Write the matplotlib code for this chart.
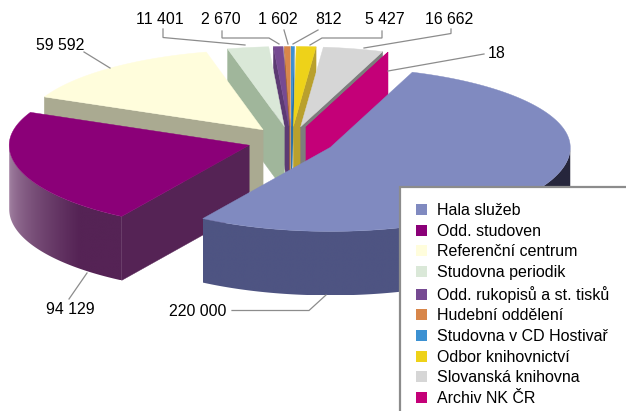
import numpy as np
import matplotlib
matplotlib.use("Agg")
import matplotlib.pyplot as plt
from matplotlib.colors import to_rgb
from matplotlib.patches import Polygon, Patch, Rectangle

plt.rcParams['font.family'] = ['Liberation Sans', 'DejaVu Sans']

categories = ["Hala služeb", "Odd. studoven", "Referenční centrum", "Studovna periodik",
              "Odd. rukopisů a st. tisků", "Hudební oddělení", "Studovna v CD Hostivař",
              "Odbor knihovnictví", "Slovanská knihovna", "Archiv NK ČR"]
values = [220000, 94129, 59592, 11401, 2670, 1602, 812, 5427, 16662, 18]
value_labels = ["220 000", "94 129", "59 592", "11 401", "2 670", "1 602", "812",
                "5 427", "16 662", "18"]

top_colors = ["#808AC0", "#8B0078", "#FFFDDC", "#DAE8D8", "#764A92", "#D8864A",
              "#3C91D2", "#EED219", "#D6D6D6", "#C40078"]
wall_colors = ["#4E5482", "#552355", "#AAAA91", "#A0B69B", "#5C3A73", "#A86838",
               "#2E70A4", "#B9A02D", "#7D7D7D", "#C40078"]
# arc wall shading: (clockwise angle, colour)
arc_stops = {0: [(90, "#26263C"), (135, "#26263C"), (160, "#4E5482"), (212, "#4E5482")],
             1: [(212, "#552355"), (225, "#552355"), (270, "#AA8CAA"), (294, "#AA8CAA")]}

CX, CY = 291.0, 141.0
A, B_BACK, B_FRONT = 240.0, 80.0, 84.0
DEPTH = 64.0
EXPLODE = 0.182
START = 20.0


def rim(apex, deg):
    r = np.radians(deg)
    c = np.cos(r)
    b = np.where(c > 0, B_BACK, B_FRONT)
    return np.column_stack([apex[0] + A * np.sin(r), apex[1] - b * c])


fig = plt.figure(figsize=(6.26, 4.11), dpi=100)
ax = fig.add_axes([0, 0, 1, 1])
ax.axis("off")

sweeps = np.array(values) / np.sum(values) * 360.0
ends = START + np.cumsum(sweeps)
starts = ends - sweeps
mids = (starts + ends) / 2
order = np.argsort(-np.cos(np.radians(mids)))

z = 1
for i in order:
    s, e, m = starts[i], ends[i], mids[i]
    mr = np.radians(m)
    apex = np.array([CX + A * EXPLODE * np.sin(mr), CY - B_BACK * EXPLODE * np.cos(mr)])
    wc = wall_colors[i]
    s360, e360 = s % 360, e % 360
    # radial walls
    if 180 < s360 < 360:
        p = rim(apex, np.array([s]))[0]
        ax.add_patch(Polygon([apex, p, p + [0, DEPTH], apex + [0, DEPTH]], closed=True,
                             facecolor=wc, edgecolor=wc, lw=0.3, zorder=z))
    if 0 < e360 < 180:
        p = rim(apex, np.array([e]))[0]
        ax.add_patch(Polygon([apex, p, p + [0, DEPTH], apex + [0, DEPTH]], closed=True,
                             facecolor=wc, edgecolor=wc, lw=0.3, zorder=z))
    z += 1
    # outer curved wall, shaded across x through a clipped gradient
    lo, hi = max(s, 90), min(e, 270)
    if hi > lo:
        th = np.linspace(lo, hi, 240)
        pts = rim(apex, th)
        x0, x1 = pts[:, 0].min(), pts[:, 0].max()
        y0, y1 = pts[:, 1].min(), pts[:, 1].max() + DEPTH
        outline = Polygon(np.vstack([pts, pts[::-1] + [0, DEPTH]]), closed=True,
                          transform=ax.transData, facecolor="none", edgecolor="none")
        ax.add_patch(outline)
        stops = arc_stops.get(i, [(0, wc), (360, wc)])
        xs = [a for a, _ in stops]
        cs = np.array([to_rgb(c) for _, c in stops])
        px = np.linspace(x0, x1, 400)
        ang = 180 - np.degrees(np.arcsin(np.clip((px - apex[0]) / A, -1, 1)))
        grad = np.stack([np.interp(ang, xs, cs[:, k]) for k in range(3)], axis=-1)[None, :, :]
        im = ax.imshow(grad, extent=(x0, x1, y1, y0), aspect="auto", interpolation="bilinear",
                       zorder=z)
        im.set_clip_path(outline)
    z += 1
    # top face
    th = np.linspace(s, e, max(int(e - s) * 2, 2))
    ax.add_patch(Polygon(np.vstack([apex, rim(apex, th)]), closed=True,
                         facecolor=top_colors[i], edgecolor=top_colors[i], lw=0.3, zorder=z))
    z += 1

# leader lines
leaders = [
    [(232, 310.5), (309, 310.5), (326, 295)],
    [(69, 299), (87, 273)],
    [(84, 52), (110, 68)],
    [(163, 29), (163, 37.5), (245, 45)],
    [(222, 31), (222, 38), (269, 38), (279, 44)],
    [(284, 30), (288, 44)],
    [(318, 30), (293, 44)],
    [(382, 31), (382, 38), (322, 38), (310, 45)],
    [(451, 29), (451, 33.5), (364, 48)],
    [(484, 54), (388, 71)],
]
for ln in leaders:
    xs, ys = zip(*ln)
    ax.plot(xs, ys, color="#8C8C8C", lw=0.9, zorder=z, solid_joinstyle="miter")
z += 1

label_pos = [(197.5, 311), (70, 309), (60, 45), (160, 20), (221, 20), (278, 20), (328, 20),
             (385, 20), (449, 20), (497, 53)]
for txt, (x, y) in zip(value_labels, label_pos):
    ax.text(x, y, txt, ha="center", va="center", fontsize=11.4, color="black", zorder=z)

# legend box runs off the canvas
ax.add_patch(Rectangle((400, 187), 240, 240, facecolor="white", edgecolor="#8C8C8C",
                       lw=1.6, zorder=z, clip_on=True))
z += 1
handles = [Patch(facecolor=c, edgecolor=c, lw=0) for c in top_colors]
leg = ax.legend(handles, categories, loc="upper left", bbox_to_anchor=(416, 203),
                bbox_transform=ax.transData, frameon=False, fontsize=11.5, borderpad=0,
                borderaxespad=0, labelspacing=0.356, handlelength=0.7, handleheight=0.7,
                handletextpad=0.62)
leg.set_zorder(z)

ax.set_xlim(0, 626)
ax.set_ylim(411, 0)
fig.savefig("out.png", dpi=100)
